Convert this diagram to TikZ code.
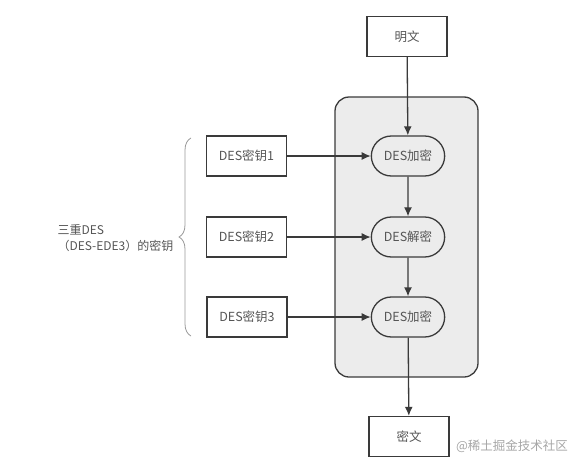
\documentclass[tikz,border=0pt]{standalone}
\usepackage{fontspec}
\setmainfont{Noto Sans CJK SC}
\usetikzlibrary{arrows.meta,positioning,shapes.misc,decorations.pathreplacing}

\definecolor{linegray}{HTML}{3A3A3A}
\definecolor{textgray}{HTML}{555555}
\definecolor{panelgray}{HTML}{ECECEC}

\tikzset{
  box/.style={draw=linegray, line width=1.3pt, minimum width=80pt, minimum height=40pt, text=textgray, font=\fontsize{12.5}{14}\selectfont},
  pill/.style={draw=linegray, line width=1.3pt, rounded rectangle, minimum width=80pt, minimum height=40pt, fill=panelgray, text=textgray, font=\fontsize{12.5}{14}\selectfont},
  flow/.style={draw=linegray, line width=1.3pt, -{Latex[length=9pt,width=8pt]}}
}

\begin{document}
\begin{tikzpicture}[x=1pt, y=-1pt]
  \useasboundingbox (0,0) rectangle (581,466);
  \node[draw=linegray, line width=1.3pt, fill=panelgray, rounded corners=14pt, minimum width=143pt, minimum height=280pt] (panel) at (406.5,237) {};
  \node[box] (plain) at (407,36.5) {明文};
  \node[pill] (enc1) at (408,156) {DES加密};
  \node[pill] (dec) at (408,237) {DES解密};
  \node[pill] (enc2) at (408,317) {DES加密};
  \node[box] (cipher) at (409,436.5) {密文};
  \node[box] (key1) at (246.5,156) {DES密钥1};
  \node[box] (key2) at (246.5,237) {DES密钥2};
  \node[box] (key3) at (247,317) {DES密钥3};
  \node[anchor=west, align=left, text=textgray, font=\fontsize{12}{16}\selectfont] (keys) at (54,238) {三重DES\\（DES-EDE3）的密钥};
  \node[text=black!35, font=\fontsize{12.5}{14}\selectfont] (mark) at (512,446) {@稀土掘金技术社区};
  \coordinate (bracelow) at (191,336);
  \coordinate (bracehigh) at (191,138);
  \draw[black!40, line width=0.8pt, decorate, decoration={brace, amplitude=12pt}] (bracelow) -- (bracehigh);
  \draw[flow] (plain) -- (enc1);
  \draw[flow] (enc1) -- (dec);
  \draw[flow] (dec) -- (enc2);
  \draw[flow] (enc2) -- (cipher);
  \draw[flow] (key1) -- (enc1);
  \draw[flow] (key2) -- (dec);
  \draw[flow] (key3) -- (enc2);
\end{tikzpicture}
\end{document}
